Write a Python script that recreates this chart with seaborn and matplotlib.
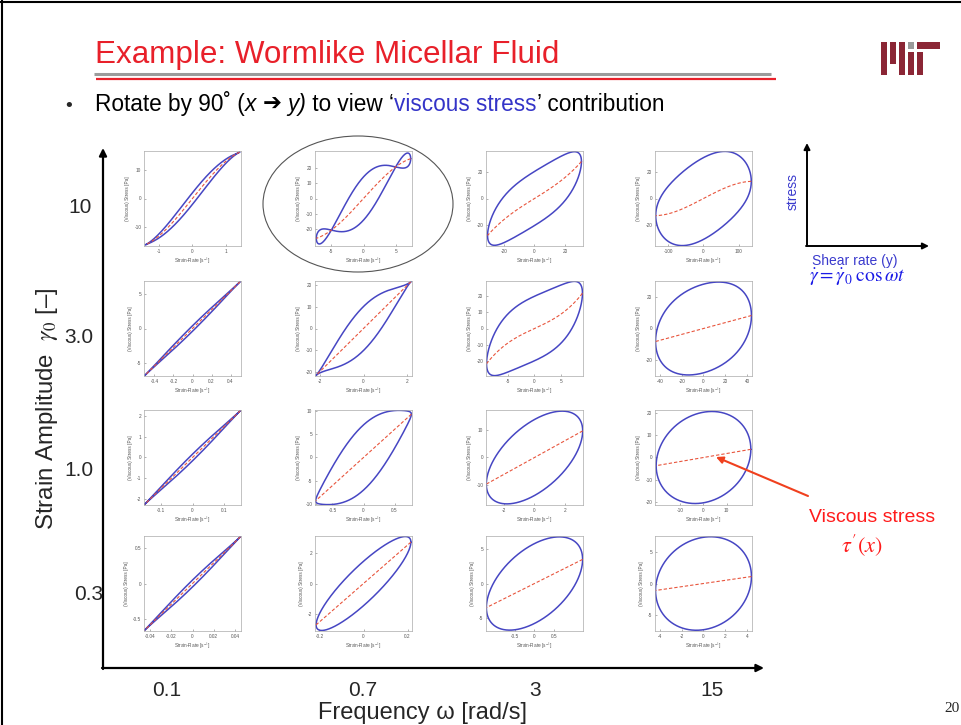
import matplotlib
matplotlib.use('Agg')
import matplotlib.pyplot as plt
import seaborn as sns
import numpy as np
from matplotlib import font_manager
from matplotlib.patches import Ellipse, Rectangle

# ---------------- data ----------------
GAMMA0_LABELS = ['10', '3.0', '1.0', '0.3']          # rows (strain amplitude)
OMEGA_LABELS = ['0.1', '0.7', '3', '15']             # columns (frequency)

# strain-rate amplitude of each loop (rows x cols)
RATE_AMP = [[1.42, 7.3, 30.5, 135],
            [0.5, 2.2, 9.1, 44],
            [0.15, 0.77, 3.2, 20.5],
            [0.045, 0.215, 1.25, 4.4]]
# viscous (in phase with rate) stress harmonics, 1st and 3rd
VISC_1 = [[17.1, 28, 26.5, 14.5],
          [6.8, 21.3, 19.5, 8.2],
          [2.25, 9.3, 9.8, 3.7],
          [0.65, 2.7, 3.5, 1.1]]
VISC_3 = [[-1.1, -2, 1.5, -1.5],
          [0, 0, 2, 0],
          [0, 0, 0, 0],
          [0, 0, 0, 0]]
# elastic (out of phase) stress harmonics, 1st and 3rd
ELAS_1 = [[1.5, 6.5, 22, 31],
          [0.3, 7.5, 21, 28.5],
          [0.12, 6, 14, 20.5],
          [0.036, 1.45, 5.8, 7.3]]
ELAS_3 = [[-0.5, -7.6, 1.5, 0],
          [-0.1, -2.5, 1.3, 0.5],
          [-0.04, -1, 0, 0],
          [-0.012, 0, 0, 0]]
XLIM = [[1.46, 7.5, 31.5, 137],
        [0.51, 2.25, 9.2, 44.5],
        [0.152, 0.78, 3.22, 21],
        [0.0455, 0.22, 1.26, 4.45]]
YLIM = [[16.4, 31, 36, 36],
        [6.9, 21.6, 29, 30],
        [2.28, 10.2, 17.5, 21.5],
        [0.66, 3.1, 6.9, 7.5]]
XTICKS = [[[-1, 0, 1], [-5, 0, 5], [-20, 0, 20], [-100, 0, 100]],
          [[-0.4, -0.2, 0, 0.2, 0.4], [-2, 0, 2], [-5, 0, 5], [-40, -20, 0, 20, 40]],
          [[-0.1, 0, 0.1], [-0.5, 0, 0.5], [-2, 0, 2], [-10, 0, 10]],
          [[-0.04, -0.02, 0, 0.02, 0.04], [-0.2, 0, 0.2], [-0.5, 0, 0.5], [-4, -2, 0, 2, 4]]]
YTICKS = [[[-10, 0, 10], [-20, -10, 0, 10, 20], [-20, 0, 20], [-20, 0, 20]],
          [[-5, 0, 5], [-20, -10, 0, 10, 20], [-20, -10, 0, 10, 20], [-20, 0, 20]],
          [[-2, -1, 0, 1, 2], [-10, -5, 0, 5, 10], [-10, 0, 10], [-20, -10, 0, 10, 20]],
          [[-0.5, 0, 0.5], [-2, 0, 2], [-5, 0, 5], [-5, 0, 5]]]

# ---------------- style ----------------
sns.set_style('ticks')
names = {f.name for f in font_manager.fontManager.ttflist}
NARROW = 'Liberation Sans Narrow' if 'Liberation Sans Narrow' in names else 'Liberation Sans'
plt.rcParams['font.family'] = [NARROW, 'DejaVu Sans']
plt.rcParams['mathtext.fontset'] = 'stix'

W, H = 962, 725
fig = plt.figure(figsize=(W / 100, H / 100), dpi=100)
fig.patch.set_facecolor('white')

BLUE = '#4646c3'
RED_D = '#e8553d'
COL_X = [144, 315, 486, 655]
ROW_Y = [151, 281, 410, 536]
PW, PH = 97, 95

t_full = np.linspace(0, 2 * np.pi, 721)
t_half = np.linspace(0, np.pi, 361)

for i in range(4):
    for j in range(4):
        x0, y0 = COL_X[j], ROW_Y[i]
        ax = fig.add_axes([x0 / W, 1 - (y0 + PH) / H, PW / W, PH / H])
        ax.patch.set_alpha(0)
        X = RATE_AMP[i][j]
        v1, v3, e1, e3 = VISC_1[i][j], VISC_3[i][j], ELAS_1[i][j], ELAS_3[i][j]
        xs = X * np.cos(t_full)
        ys = v1 * np.cos(t_full) + v3 * np.cos(3 * t_full) + e1 * np.sin(t_full) + e3 * np.sin(3 * t_full)
        sns.lineplot(x=xs, y=ys, sort=False, estimator=None, ax=ax, color=BLUE, lw=1.1)
        xr = X * np.cos(t_half)
        yr = v1 * np.cos(t_half) + v3 * np.cos(3 * t_half)
        sns.lineplot(x=xr, y=yr, sort=False, estimator=None, ax=ax, color=RED_D, lw=0.8,
                     linestyle=(0, (3, 1.8)))
        ax.set_xlim(-XLIM[i][j], XLIM[i][j])
        ax.set_ylim(-YLIM[i][j], YLIM[i][j])
        ax.set_xticks(XTICKS[i][j])
        ax.set_xticklabels([f'{v:g}' for v in XTICKS[i][j]])
        ax.set_yticks(YTICKS[i][j])
        ax.set_yticklabels([f'{v:g}' for v in YTICKS[i][j]])
        ax.tick_params(direction='in', length=1.5, width=0.4, labelsize=3.4,
                       colors='#777777', labelcolor='#555555', pad=2)
        for sp in ax.spines.values():
            sp.set_linewidth(0.5)
            sp.set_color('#aaaaaa')
            sp.set_visible(True)
        ax.set_xlabel('Strain-Rate [s$^{-1}$]', fontsize=3.4, color='#555555', labelpad=2,
                      family=['Liberation Sans', 'DejaVu Sans'])
        ax.set_ylabel('(Viscous) Stress [Pa]', fontsize=3.4, color='#555555', labelpad=3,
                      family=['Liberation Sans', 'DejaVu Sans'])

# ---------------- overlay (slide decorations) ----------------
ov = fig.add_axes([0, 0, 1, 1], zorder=10)
ov.set_xlim(0, W)
ov.set_ylim(H, 0)
ov.axis('off')
ov.patch.set_alpha(0)
R = fig.canvas.get_renderer()


def measure(s, size, **kw):
    a = ov.text(0, 0, '|' + s + '|', fontsize=size, **kw)
    b = ov.text(0, 0, '||', fontsize=size, **kw)
    w = a.get_window_extent(R).width - b.get_window_extent(R).width
    a.remove(); b.remove()
    return w


def seq(x, y, pieces, target, size0=14, **common):
    def widths(size):
        out = []
        for s, kw in pieces:
            kk = dict(common); kk.update(kw)
            out.append(measure(s, size, **kk))
        return out
    size = size0 * target / sum(widths(size0))
    cur = x
    for (s, kw), w in zip(pieces, widths(size)):
        kk = dict(common); kk.update(kw)
        ov.text(cur, y, s, fontsize=size, va='baseline', ha='left', **kk)
        cur += w


def fit_text(x, y, s, target, rotation=0, size0=14, **kw):
    w = measure(s, size0, **kw)
    size = size0 * target / w
    ov.text(x, y, s, fontsize=size, ha='center', va='center', rotation=rotation, **kw)

# slide frame
ov.plot([2, 2], [0, H], color='black', lw=1.5)
ov.plot([0, W], [2, 2], color='black', lw=1.5)

# title and rules
seq(95, 63, [('Example: Wormlike Micellar Fluid', {})], 467, color='#e8202a')
ov.plot([94, 771], [73.5, 73.5], color='#9b9b9b', lw=2.2, solid_capstyle='butt')
ov.plot([96, 776], [78.5, 78.5], color='#e8202a', lw=1.6, solid_capstyle='butt')

# MIT logo
MIT_RED = '#8b2635'
for (lx, ly, lw_, lh, col) in [(881, 42, 6, 33, MIT_RED), (890, 42, 6, 22, MIT_RED),
                               (899, 42, 6, 33, MIT_RED), (908, 42, 6, 7, '#9a9a9a'),
                               (908, 52, 6, 23, MIT_RED), (917, 42, 23, 7, MIT_RED),
                               (917, 52, 6, 23, MIT_RED)]:
    ov.add_patch(Rectangle((lx, ly), lw_, lh, color=col, lw=0))

# bullet line
ov.text(63, 111, '•', fontsize=13, va='baseline', ha='left', family=['DejaVu Sans'])
seq(95, 111, [('Rotate by 90˚ (', {}), ('x', {'style': 'italic'}), (' ', {}),
              ('➔', {'family': ['DejaVu Sans']}), (' ', {}), ('y)', {'style': 'italic'}),
              (' to view ‘', {}), ('viscous stress', {'color': '#3434c8'}),
              ('’ contribution', {})], 573, color='black')

# main axes arrows
ov.annotate('', xy=(103, 148), xytext=(103, 669),
            arrowprops=dict(arrowstyle='-|>', lw=1.6, color='black', mutation_scale=11,
                            shrinkA=0, shrinkB=0))
ov.annotate('', xy=(764, 668), xytext=(102, 668),
            arrowprops=dict(arrowstyle='-|>', lw=1.6, color='black', mutation_scale=11,
                            shrinkA=0, shrinkB=0))

# row / column labels
for lab, cx, cy in zip(GAMMA0_LABELS, [80, 79, 79, 89], [207, 337, 470, 594]):
    ov.text(cx, cy, lab, fontsize=15, ha='center', va='center')
for lab, cx in zip(OMEGA_LABELS, [167, 363, 535, 712]):
    ov.text(cx, 690, lab, fontsize=15, ha='center', va='center')

fit_text(47, 409, 'Strain Amplitude  $\\gamma_0$ [–]', 243, rotation=90)
fit_text(423, 713, 'Frequency ω [rad/s]', 210)
ov.text(960, 708, '20', fontsize=11, ha='right', va='center', family=['Liberation Serif'])

# highlight ellipse
ov.add_patch(Ellipse((358, 204), 190, 136, fill=False, ec='#555555', lw=0.8))

# schematic on the right
ov.annotate('', xy=(807, 143), xytext=(807, 246),
            arrowprops=dict(arrowstyle='-|>', lw=1.4, color='black', mutation_scale=9,
                            shrinkA=0, shrinkB=0))
ov.annotate('', xy=(929, 246), xytext=(806, 246),
            arrowprops=dict(arrowstyle='-|>', lw=1.4, color='black', mutation_scale=9,
                            shrinkA=0, shrinkB=0))
ov.text(793, 191, 'stress', fontsize=10, rotation=90, ha='center', va='center',
        color='#3a3acd', family=['Liberation Sans', 'DejaVu Sans'])
ov.text(812, 265, 'Shear rate (y)', fontsize=10, ha='left', va='baseline',
        color='#3a3acd', family=['Liberation Sans', 'DejaVu Sans'])
ov.text(809, 282, r'$\dot{\gamma} = \dot{\gamma}_0\;\cos\omega t$', fontsize=14,
        ha='left', va='baseline', color='#1a1ae6')

# viscous stress annotation
ov.annotate('', xy=(716, 457), xytext=(808, 496),
            arrowprops=dict(arrowstyle='-|>', lw=1.5, color='#f0401e', mutation_scale=10,
                            shrinkA=0, shrinkB=0))
ov.text(872, 518, 'Viscous stress', fontsize=14, ha='center', va='center', color='#ff1a1a',
        family=['Liberation Sans', 'DejaVu Sans'])
ov.text(862, 545, r"$\tau'(x)$", fontsize=16, ha='center', va='center', color='#ff1a1a')

fig.savefig('out.png', dpi=100)
